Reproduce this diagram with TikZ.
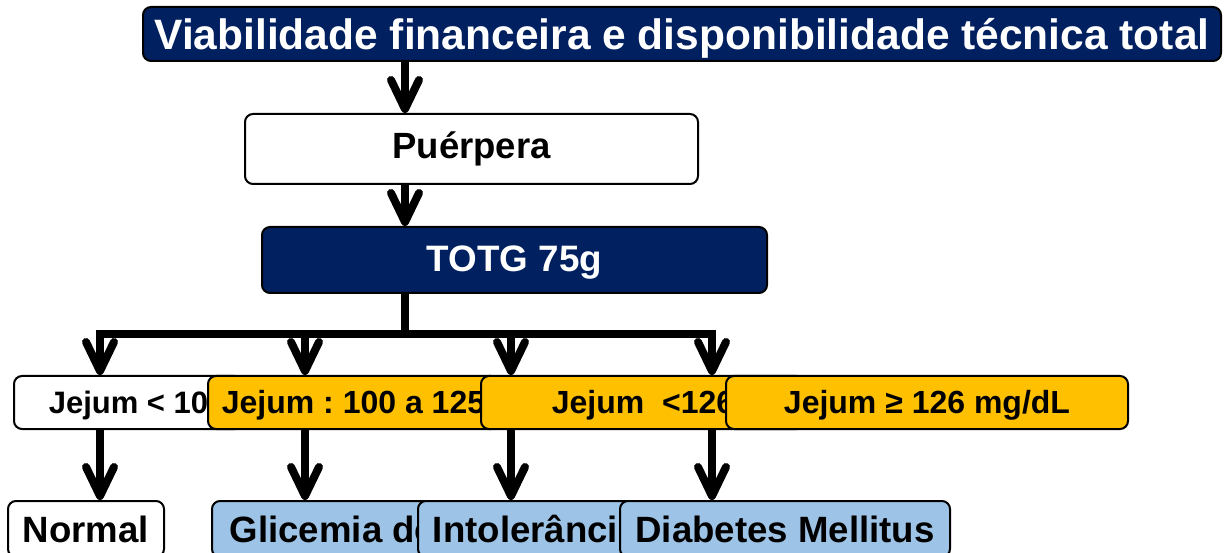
\documentclass[tikz,border=0pt]{standalone}
\usepackage{fontspec}
\setmainfont{Liberation Sans}
\usetikzlibrary{arrows.meta,backgrounds}
\frenchspacing
\definecolor{navy}{RGB}{0,32,96}
\definecolor{gold}{RGB}{255,192,0}
\definecolor{lblue}{RGB}{157,195,230}
\tikzset{
  box/.style={draw=black, line width=2pt, rounded corners=8pt, inner sep=0pt, font=\bfseries},
  conn/.style={line width=8pt, draw=black},
  arr/.style={conn, -{Straight Barb[length=29pt,width=28pt,line cap=round,line join=round]}},
  fs/.style={font=\fontsize{#1}{#1}\selectfont\bfseries, text height=0.716*#1 pt, text depth=0pt}
}
\begin{document}
\begin{tikzpicture}[x=1pt,y=-1pt]
\clip (0,0) rectangle (1224,553);
\begin{scope}[on background layer]
\fill[white] (0,0) rectangle (1224,553);
\end{scope}
% top
\node[box, fill=navy, text=white, fs=42.5, minimum width=1078pt, minimum height=54pt] (top) at (682,34) {Viabilidade financeira e disponibilidade técnica total};
\node[box, fill=white, fs=36.5, text depth=7pt, minimum width=453pt, minimum height=70pt] (puer) at (471.5,149) {Puérpera};
\node[box, fill=navy, text=white, fs=36.8, text depth=4pt, minimum width=505pt, minimum height=66pt] (totg) at (514.5,260) {TOTG 75g};
% row 2
\node[box, fill=white, fs=31, minimum width=229pt, minimum height=53pt] (j1) at (128.5,402.5) {Jejum < 10};
\node[box, fill=gold, fs=32, minimum width=291pt, minimum height=53pt] (j2) at (353.5,402.5) {Jejum : 100 a 125};
\node[box, fill=gold, fs=32, minimum width=324pt, minimum height=53pt] (j3) at (643,402.5) {Jejum\ \ <126};
\node[box, fill=gold, fs=32, minimum width=402pt, minimum height=53pt] (j4) at (927,402.5) {Jejum ≥ 126 mg/dL};
% row 3
\node[box, fill=white, fs=36.6, minimum width=156pt, minimum height=56pt] (n1) at (86,529) {Normal};
\node[box, fill=lblue, fs=36.6, minimum width=241pt, minimum height=56pt] (n2) at (332.5,529) {Glicemia de};
\node[box, fill=lblue, fs=36.6, minimum width=235.4pt, minimum height=56pt] (n3) at (535.7,529) {Intolerância};
\node[box, fill=lblue, fs=36.6, minimum width=330pt, minimum height=56pt] (n4) at (785,529) {Diabetes Mellitus};
% connectors
\coordinate (tA) at (405,0);
\coordinate (bar) at (405,334);
\coordinate (a1) at (100,334);
\coordinate (a2) at (305,334);
\coordinate (a3) at (511,334);
\coordinate (a4) at (712,334);
\begin{scope}[on background layer]
\draw[arr] (top.south -| tA) -- (puer.north -| tA);
\draw[arr] (puer.south -| tA) -- (totg.north -| tA);
\draw[conn] (totg.south -| bar) -- (bar);
\draw[conn, line cap=rect] (a1) -- (a4);
\draw[arr] (a1) -- (a1 |- j1.north);
\draw[arr] (a2) -- (a2 |- j2.north);
\draw[arr] (a3) -- (a3 |- j3.north);
\draw[arr] (a4) -- (a4 |- j4.north);
\draw[arr] (a1 |- j1.south) -- (a1 |- n1.north);
\draw[arr] (a2 |- j2.south) -- (a2 |- n2.north);
\draw[arr] (a3 |- j3.south) -- (a3 |- n3.north);
\draw[arr] (a4 |- j4.south) -- (a4 |- n4.north);
\end{scope}
\end{tikzpicture}
\end{document}
